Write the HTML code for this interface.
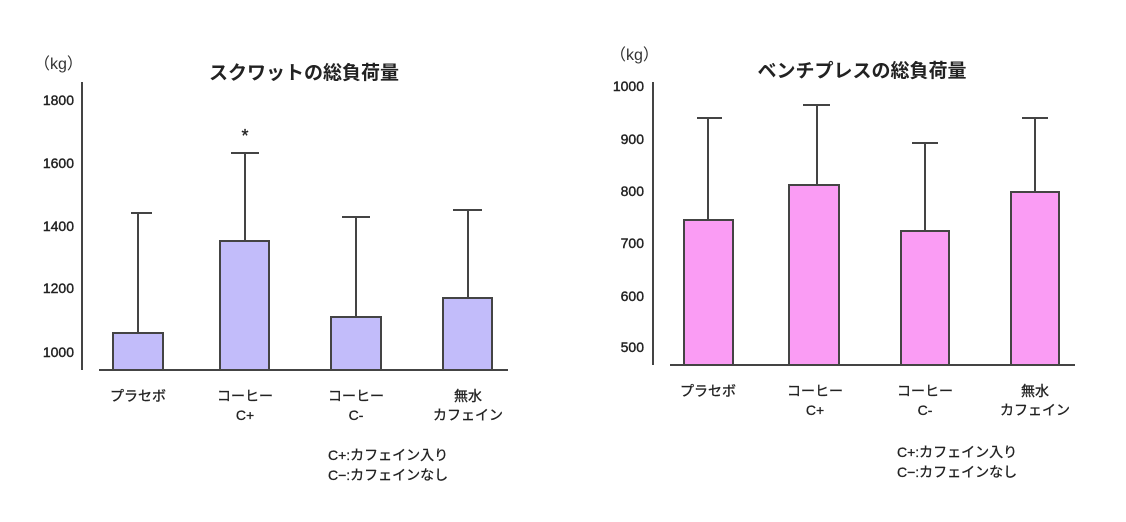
<!DOCTYPE html>
<html><head><meta charset="utf-8"><style>
html,body{margin:0;padding:0;background:#fff;}
svg{display:block;font-family:"Liberation Sans","Noto Sans CJK JP",sans-serif;}
</style></head><body>
<svg width="1126" height="522" viewBox="0 0 1126 522" xmlns="http://www.w3.org/2000/svg">
<g fill="#222">
<!-- LEFT -->
<text x="34" y="69" font-size="16" fill="#333">（kg）</text>
<text x="304" y="79" font-size="19" font-weight="bold" text-anchor="middle">スクワットの総負荷量</text>
<g font-size="14" text-anchor="end" stroke="#222" stroke-width="0.4">
<text x="74" y="105">1800</text><text x="74" y="168">1600</text><text x="74" y="231">1400</text><text x="74" y="293">1200</text><text x="74" y="357">1000</text>
</g>
</g>
<g stroke="#444" stroke-width="2" fill="none">
<line x1="82" y1="82" x2="82" y2="370"/>
<line x1="99" y1="370" x2="508" y2="370"/>
<line x1="138" y1="333" x2="138" y2="213"/><line x1="131" y1="213" x2="152" y2="213"/>
<line x1="245" y1="241" x2="245" y2="153"/><line x1="231" y1="153" x2="259" y2="153"/>
<line x1="356" y1="317" x2="356" y2="217"/><line x1="342" y1="217" x2="370" y2="217"/>
<line x1="468" y1="298" x2="468" y2="210"/><line x1="453" y1="210" x2="482" y2="210"/>
</g>
<g stroke="#444" stroke-width="2" fill="#c2bcfa">
<rect x="113" y="333" width="50" height="37"/>
<rect x="220" y="241" width="49" height="129"/>
<rect x="331" y="317" width="50" height="53"/>
<rect x="443" y="298" width="49" height="72"/>
</g>
<g fill="#222" font-size="14" text-anchor="middle" stroke="#222" stroke-width="0.3">
<text x="245" y="142" font-size="18">*</text>
<text x="138" y="401">プラセボ</text>
<text x="245" y="401">コーヒー</text><text x="245" y="420">C+</text>
<text x="356" y="401">コーヒー</text><text x="356" y="420">C-</text>
<text x="468" y="401">無水</text><text x="468" y="420">カフェイン</text>
<text x="328" y="460" text-anchor="start">C+:カフェイン入り</text>
<text x="328" y="480" text-anchor="start">C−:カフェインなし</text>
</g>
<!-- RIGHT -->
<g fill="#222">
<text x="610" y="60" font-size="16" fill="#333">（kg）</text>
<text x="862" y="77" font-size="19" font-weight="bold" text-anchor="middle">ベンチプレスの総負荷量</text>
<g font-size="14" text-anchor="end" stroke="#222" stroke-width="0.4">
<text x="644" y="91">1000</text><text x="644" y="144">900</text><text x="644" y="196">800</text><text x="644" y="248">700</text><text x="644" y="301">600</text><text x="644" y="352">500</text>
</g>
</g>
<g stroke="#444" stroke-width="2" fill="none">
<line x1="653" y1="82" x2="653" y2="365"/>
<line x1="670" y1="365" x2="1075" y2="365"/>
<line x1="708" y1="220" x2="708" y2="118"/><line x1="697" y1="118" x2="722" y2="118"/>
<line x1="817" y1="185" x2="817" y2="105"/><line x1="803" y1="105" x2="830" y2="105"/>
<line x1="925" y1="231" x2="925" y2="143"/><line x1="912" y1="143" x2="938" y2="143"/>
<line x1="1035" y1="192" x2="1035" y2="118"/><line x1="1022" y1="118" x2="1048" y2="118"/>
</g>
<g stroke="#444" stroke-width="2" fill="#fa9cf4">
<rect x="684" y="220" width="49" height="145"/>
<rect x="789" y="185" width="50" height="180"/>
<rect x="901" y="231" width="48" height="134"/>
<rect x="1011" y="192" width="48" height="173"/>
</g>
<g fill="#222" font-size="14" text-anchor="middle" stroke="#222" stroke-width="0.3">
<text x="708" y="396">プラセボ</text>
<text x="815" y="396">コーヒー</text><text x="815" y="415">C+</text>
<text x="925" y="396">コーヒー</text><text x="925" y="415">C-</text>
<text x="1035" y="396">無水</text><text x="1035" y="415">カフェイン</text>
<text x="897" y="457" text-anchor="start">C+:カフェイン入り</text>
<text x="897" y="477" text-anchor="start">C−:カフェインなし</text>
</g>
</svg>
</body></html>
